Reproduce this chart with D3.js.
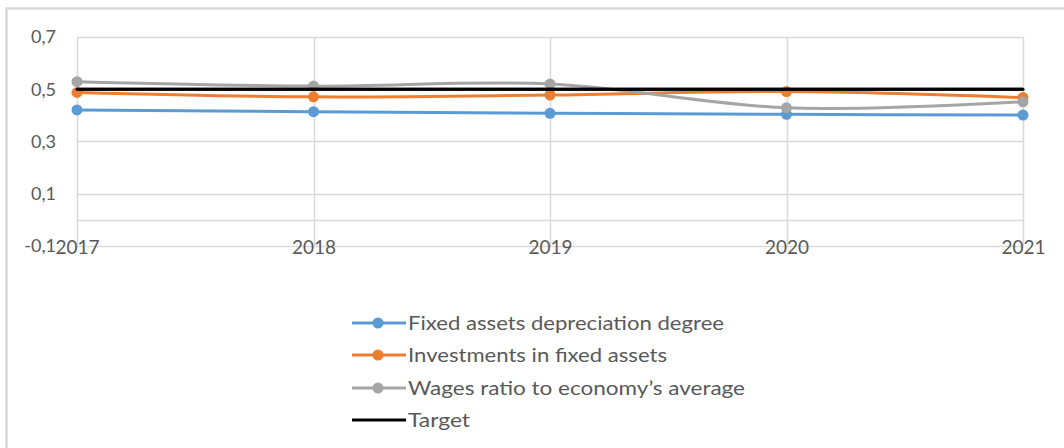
<!DOCTYPE html>
<html>
<head>
<meta charset="utf-8">
<script src="https://cdn.jsdelivr.net/npm/d3@7"></script>
<style>
  html, body { margin: 0; padding: 0; background: #fff; }
  svg { display: block; font-family: Lato, "Open Sans", sans-serif; }
</style>
</head>
<body>
<svg id="chart" width="1064" height="448"></svg>
<script>
// Categories (years)
const years = ["2017", "2018", "2019", "2020", "2021"];

// Series values
const depreciation = [0.421, 0.414, 0.408, 0.404, 0.401];
const investments  = [0.488, 0.471, 0.478, 0.491, 0.468];
const wagesRatio   = [0.529, 0.512, 0.520, 0.429, 0.452];
const target       = [0.5, 0.5, 0.5, 0.5, 0.5];

// Y axis ticks and their printed labels
const yTicks = [-0.1, 0.1, 0.3, 0.5, 0.7];
const yTickLabels = ["-0,1", "0,1", "0,3", "0,5", "0,7"];

const seriesNames = [
  "Fixed assets depreciation degree",
  "Investments in fixed assets",
  "Wages ratio to economy\u2019s average",
  "Target"
];

const series = [
  { name: seriesNames[0], values: depreciation, color: "#5B9BD5", marker: true,  width: 3 },
  { name: seriesNames[1], values: investments,  color: "#ED7D31", marker: true,  width: 3 },
  { name: seriesNames[2], values: wagesRatio,   color: "#A5A5A5", marker: true,  width: 3 },
  { name: seriesNames[3], values: target,       color: "#000000", marker: false, width: 3 }
];

const svg = d3.select("#chart");
const textColor = "#595959";
const gridColor = "#d9d9d9";

// Outer chart frame
svg.append("rect")
  .attr("x", 6.5).attr("y", 8.5)
  .attr("width", 1100).attr("height", 460)
  .attr("fill", "none")
  .attr("stroke", gridColor)
  .attr("stroke-width", 2.5);

const x = d3.scalePoint().domain(years).range([77, 1023]);
const y = d3.scaleLinear().domain([-0.1, 0.7]).range([246, 37]);

const plot = svg.append("g");

// Horizontal gridlines
plot.selectAll("line.hgrid")
  .data(yTicks)
  .join("line")
  .attr("class", "hgrid")
  .attr("x1", x(years[0])).attr("x2", x(years[years.length - 1]))
  .attr("y1", d => Math.round(y(d)) + 0.5).attr("y2", d => Math.round(y(d)) + 0.5)
  .attr("stroke", gridColor).attr("stroke-width", 1.5);

// Vertical gridlines at each category
plot.selectAll("line.vgrid")
  .data(years)
  .join("line")
  .attr("class", "vgrid")
  .attr("x1", d => Math.round(x(d)) + 0.5).attr("x2", d => Math.round(x(d)) + 0.5)
  .attr("y1", y(0.7)).attr("y2", y(-0.1))
  .attr("stroke", gridColor).attr("stroke-width", 1.5);

// Category axis line at zero
plot.append("line")
  .attr("x1", x(years[0])).attr("x2", x(years[years.length - 1]))
  .attr("y1", Math.round(y(0)) + 0.5).attr("y2", Math.round(y(0)) + 0.5)
  .attr("stroke", gridColor).attr("stroke-width", 1.5);

// Y tick labels
const yAxis = d3.axisLeft(y)
  .tickValues(yTicks)
  .tickFormat((d, i) => yTickLabels[i])
  .tickSize(0)
  .tickPadding(0);
const gy = svg.append("g").attr("transform", "translate(56,0)").call(yAxis);
gy.select(".domain").remove();
gy.selectAll("text")
  .attr("fill", textColor)
  .attr("font-size", 18)
  .attr("font-family", "Lato, 'Open Sans', sans-serif");

// X tick labels, positioned at the bottom of the plot
const xAxis = d3.axisBottom(x).tickSize(0).tickPadding(0);
const gx = svg.append("g").attr("transform", `translate(0,${y(-0.1) - 6})`).call(xAxis);
gx.select(".domain").remove();
gx.selectAll("text")
  .attr("fill", textColor)
  .attr("font-size", 19)
  .attr("font-family", "Lato, 'Open Sans', sans-serif");

// Series lines
const line = d3.line()
  .x((d, i) => x(years[i]))
  .y(d => y(d))
  .curve(d3.curveCatmullRom.alpha(0));

series.forEach(s => {
  plot.append("path")
    .datum(s.values)
    .attr("d", line)
    .attr("fill", "none")
    .attr("stroke", s.color)
    .attr("stroke-width", s.width)
    .attr("stroke-linecap", "round")
    .attr("stroke-linejoin", "round");
  if (s.marker) {
    plot.selectAll(null)
      .data(s.values)
      .join("circle")
      .attr("cx", (d, i) => x(years[i]))
      .attr("cy", d => y(d))
      .attr("r", 5.5)
      .attr("fill", s.color);
  }
});

// Redraw target on top so it overlays the other series
plot.append("path")
  .datum(target)
  .attr("d", line)
  .attr("fill", "none")
  .attr("stroke", "#000")
  .attr("stroke-width", 3);

// Legend
const legendRowY = [323, 355, 388, 420];
const legendWidths = [316, 259, 337, 62];
const legend = svg.append("g");
series.forEach((s, i) => {
  const g = legend.append("g").attr("transform", `translate(0,${legendRowY[i]})`);
  g.append("line")
    .attr("x1", 352).attr("x2", 406)
    .attr("y1", 0).attr("y2", 0)
    .attr("stroke", s.color).attr("stroke-width", 3);
  if (s.marker) {
    g.append("circle").attr("cx", 378).attr("cy", 0).attr("r", 5.5).attr("fill", s.color);
  }
  g.append("text")
    .attr("x", 408).attr("y", 0)
    .attr("dy", "0.35em")
    .attr("fill", textColor)
    .attr("font-size", 19)
    .attr("textLength", legendWidths[i])
    .attr("lengthAdjust", "spacingAndGlyphs")
    .text(s.name);
});
</script>
</body>
</html>
